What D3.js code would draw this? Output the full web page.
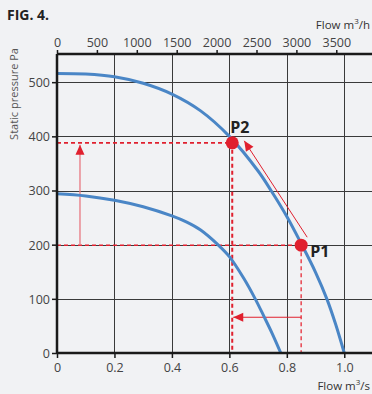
<!DOCTYPE html>
<html><head><meta charset="utf-8">
<script src="https://cdn.jsdelivr.net/npm/d3@7"></script>
<style>
html,body{margin:0;padding:0;background:#f1f2f4;}
svg{display:block;font-family:"Open Sans","Noto Sans",sans-serif;}
</style></head>
<body><svg id="c" width="372" height="394"></svg>
<script>
const xTicksBottom = [0, 0.2, 0.4, 0.6, 0.8, 1.0];
const xTicksTop = [0, 500, 1000, 1500, 2000, 2500, 3000, 3500];
const yTicks = [0, 100, 200, 300, 400, 500];
const curveHighQ = [0, 0.1, 0.2, 0.3, 0.4, 0.5, 0.6, 0.7, 0.745, 0.8, 0.852, 0.9, 0.94, 0.97, 1.0];
const curveHighP = [516, 515, 510, 498, 478, 447, 400, 336, 300, 252, 200, 149, 99, 53, 0];
const curveLowQ = [0, 0.1, 0.2, 0.3, 0.4, 0.45, 0.5, 0.56, 0.6, 0.65, 0.69, 0.72, 0.75, 0.779];
const curveLowP = [294, 290, 282, 270, 253, 242, 227, 200, 178, 138, 100, 68, 35, 0];
const pointNames = ["P1", "P2"];
const pointQ = [0.85, 0.61];
const pointP = [199, 388];
const arrowUpQ = 0.08;
const arrowLeftP = 66;

const svg = d3.select("#c");
const L = 57, R = 373, T = 54, B = 353;
const x = d3.scaleLinear().domain([0, 1.1]).range([L, R]);
const xTop = d3.scaleLinear().domain([0, 3960]).range([L, R]);
const y = d3.scaleLinear().domain([0, 552]).range([B, T]);

// grid
const g = svg.append("g");
g.selectAll(".vg").data(xTicksBottom.slice(1)).join("line")
  .attr("x1", d => Math.round(x(d)) + 0.5).attr("x2", d => Math.round(x(d)) + 0.5)
  .attr("y1", T).attr("y2", B).attr("stroke", "#3a3a3a").attr("stroke-width", 1);
g.selectAll(".hg").data(yTicks.slice(1)).join("line")
  .attr("y1", d => Math.round(y(d)) + 0.5).attr("y2", d => Math.round(y(d)) + 0.5)
  .attr("x1", L).attr("x2", 372).attr("stroke", "#3a3a3a").attr("stroke-width", 1);

// red helper lines
const red = "#e0202e";
const [p1q, p2q] = pointQ, [p1p, p2p] = pointP;
const dash = "4,3";
svg.append("line").attr("x1", x(0)).attr("x2", x(p1q)).attr("y1", y(p1p)).attr("y2", y(p1p))
  .attr("stroke", red).attr("stroke-width", 1.6).attr("stroke-dasharray", dash);
svg.append("line").attr("x1", x(0)).attr("x2", x(p2q)).attr("y1", y(p2p)).attr("y2", y(p2p))
  .attr("stroke", red).attr("stroke-width", 1.6).attr("stroke-dasharray", dash);
svg.append("line").attr("x1", x(p1q)).attr("x2", x(p1q)).attr("y1", y(p1p)).attr("y2", y(0))
  .attr("stroke", "#e8505a").attr("stroke-width", 1.6).attr("stroke-dasharray", dash);
svg.append("line").attr("x1", x(p2q)).attr("x2", x(p2q)).attr("y1", y(p2p)).attr("y2", y(0))
  .attr("stroke", red).attr("stroke-width", 2).attr("stroke-dasharray", dash);

// arrows
function arrow(x1, y1, x2, y2, col, w) {
  svg.append("line").attr("x1", x1).attr("y1", y1).attr("x2", x2).attr("y2", y2)
    .attr("stroke", col).attr("stroke-width", w);
  const a = Math.atan2(y2 - y1, x2 - x1), len = 10, hw = 4.5;
  const bx = x2 - len * Math.cos(a), by = y2 - len * Math.sin(a);
  svg.append("path").attr("d", `M${x2},${y2}L${bx + hw * Math.sin(a)},${by - hw * Math.cos(a)}L${bx - hw * Math.sin(a)},${by + hw * Math.cos(a)}Z`)
    .attr("fill", red);
}
arrow(x(arrowUpQ), y(p1p), x(arrowUpQ), y(p2p) + 2, "#e87880", 1.3);
arrow(x(p1q), y(arrowLeftP), x(p2q) + 1, y(arrowLeftP), red, 1.2);
arrow(x(p1q) + 6, y(p1p) - 8, x(p2q) + 12, y(p2p) - 2, red, 1);

// curves
const line = d3.line().x(d => x(d[0])).y(d => y(d[1])).curve(d3.curveCatmullRom.alpha(0.5));
svg.append("path").datum(curveHighQ.map((q, i) => [q, curveHighP[i]])).attr("d", line)
  .attr("fill", "none").attr("stroke", "#4a86c6").attr("stroke-width", 3);
svg.append("path").datum(curveLowQ.map((q, i) => [q, curveLowP[i]])).attr("d", line)
  .attr("fill", "none").attr("stroke", "#4a86c6").attr("stroke-width", 3);

// points
svg.selectAll(".pt").data(pointNames).join("circle")
  .attr("cx", (d, i) => x(pointQ[i])).attr("cy", (d, i) => y(pointP[i])).attr("r", 6.5).attr("fill", red);
svg.append("text").attr("x", x(p1q) + 9).attr("y", y(p1p) + 12).text(pointNames[0])
  .attr("font-size", 16).attr("font-weight", "bold").attr("fill", "#222");
svg.append("text").attr("x", x(p2q) - 2).attr("y", y(p2p) - 10).text(pointNames[1])
  .attr("font-size", 16).attr("font-weight", "bold").attr("fill", "#222");

// axes
const axCol = "#1a1a1a";
const bAx = svg.append("g").attr("transform", `translate(0,${B})`)
  .call(d3.axisBottom(x).tickValues(xTicksBottom).tickSize(5).tickFormat((d, i) => i === 0 ? "0" : d3.format(".1f")(d)));
const tAx = svg.append("g").attr("transform", `translate(0,${T})`)
  .call(d3.axisTop(xTop).tickValues(xTicksTop).tickSize(4).tickFormat(d3.format("d")));
const lAx = svg.append("g").attr("transform", `translate(${L},0)`)
  .call(d3.axisLeft(y).tickValues(yTicks).tickSize(5));
[bAx, tAx, lAx].forEach(a => {
  a.select(".domain").attr("stroke", axCol).attr("stroke-width", 2.5);
  a.selectAll(".tick line").attr("stroke", axCol).attr("stroke-width", 1.5);
  a.selectAll("text").attr("font-size", 12.5).attr("fill", "#444").attr("font-family", "Open Sans, Noto Sans, sans-serif");
});
bAx.select(".domain").attr("d", `M${L},0H372`);
tAx.select(".domain").attr("d", `M${L},0H372`);
lAx.select(".domain").attr("d", `M0,${T}V${B}`);
bAx.selectAll("text").attr("dy", "0.9em");
lAx.selectAll("text").attr("dy", "0.35em").attr("x", -7);

// titles
svg.append("text").attr("x", 7).attr("y", 20).text("FIG. 4.")
  .attr("font-size", 14).attr("font-weight", "bold").attr("fill", "#222");
const fh = svg.append("text").attr("x", 370).attr("y", 29).attr("text-anchor", "end").attr("font-size", 11.5).attr("fill", "#333");
fh.append("tspan").text("Flow m");
fh.append("tspan").text("3").attr("font-size", 8).attr("dy", -5);
fh.append("tspan").text("/h").attr("dy", 5);
const fs = svg.append("text").attr("x", 370).attr("y", 390).attr("text-anchor", "end").attr("font-size", 11.5).attr("fill", "#333");
fs.append("tspan").text("Flow m");
fs.append("tspan").text("3").attr("font-size", 8).attr("dy", -5);
fs.append("tspan").text("/s").attr("dy", 5);
svg.append("text").attr("transform", "translate(18,94) rotate(-90)").attr("text-anchor", "middle")
  .text("Static pressure Pa").attr("font-size", 11).attr("fill", "#555");
</script></body></html>
